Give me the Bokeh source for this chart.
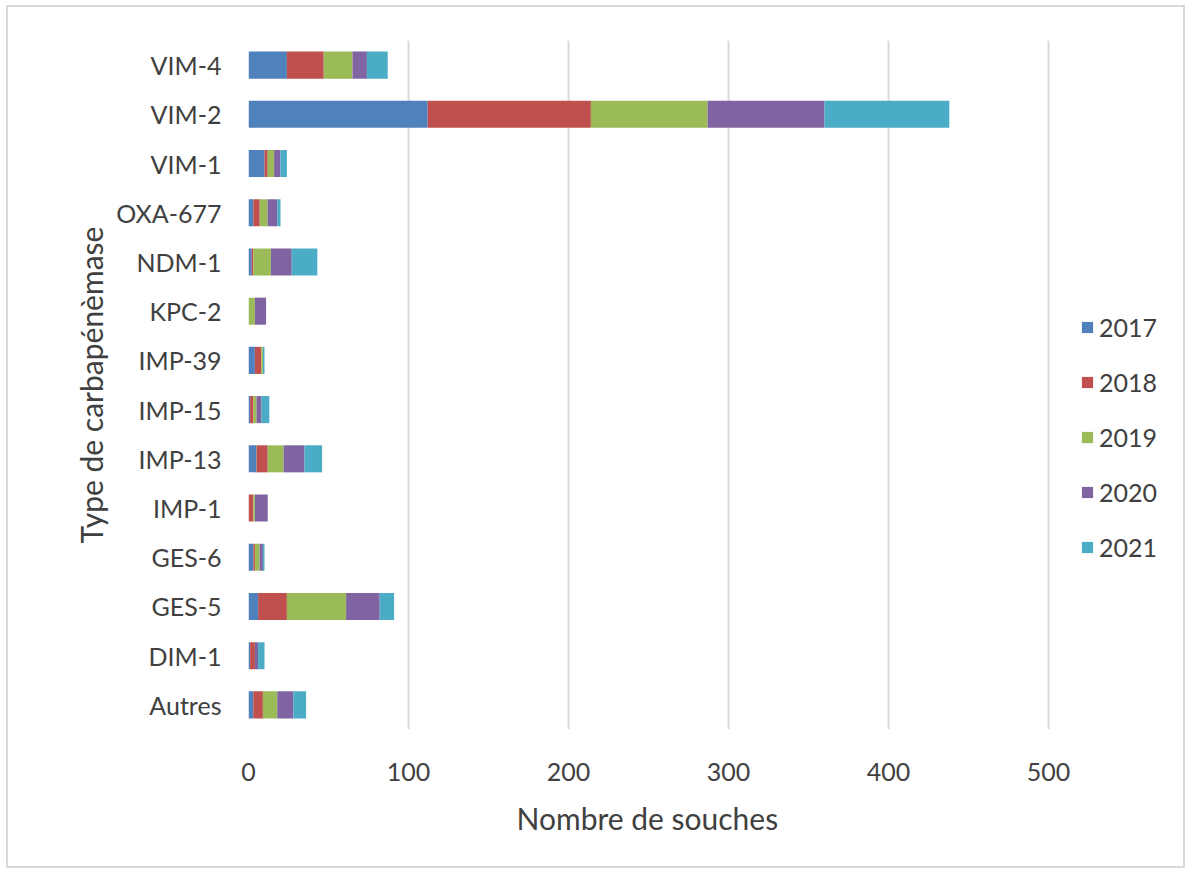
from bokeh.plotting import figure
from bokeh.models import ColumnDataSource, FactorRange, Range1d, Legend, LegendItem, FixedTicker, Title
from bokeh.embed import file_html
from bokeh.resources import INLINE

categories = ["Autres", "DIM-1", "GES-5", "GES-6", "IMP-1", "IMP-13", "IMP-15",
              "IMP-39", "KPC-2", "NDM-1", "OXA-677", "VIM-1", "VIM-2", "VIM-4"]
y2017 = [3, 1, 6, 3, 0, 5, 1, 4, 0, 2, 3, 10, 112, 24]
y2018 = [6, 3, 18, 1, 3, 7, 2, 4, 0, 1, 4, 2, 102, 23]
y2019 = [9, 0, 37, 3, 1, 10, 2, 1, 4, 11, 5, 4, 73, 18]
y2020 = [10, 2, 21, 2, 8, 13, 3, 0, 7, 13, 6, 4, 73, 9]
y2021 = [8, 4, 9, 1, 0, 11, 5, 1, 0, 16, 2, 4, 78, 13]
years = ["2017", "2018", "2019", "2020", "2021"]
colors = ["#4F81BD", "#C0504D", "#9BBB59", "#8064A2", "#4BACC6"]
x_ticks = [0, 100, 200, 300, 400, 500]

src = ColumnDataSource(dict(cat=categories, **{"2017": y2017, "2018": y2018,
                                               "2019": y2019, "2020": y2020, "2021": y2021}))

FONT = "Lato"
TXT = "#404040"

# frame spans 930 px; 500 units take 800 px, the rest holds the legend
p = figure(width=1179, height=863, output_backend="svg", toolbar_location=None,
           y_range=FactorRange(*categories, range_padding=0), x_range=Range1d(0, 581.25),
           min_border_left=240, min_border_right=9, min_border_top=33, min_border_bottom=141)
p.styles = {"border": "2px solid #d9d9d9", "box-sizing": "border-box",
            "margin-left": "6px", "margin-top": "5px"}

renderers = p.hbar_stack(years, y="cat", height=0.55, color=colors, source=src, line_color=None)

p.outline_line_color = None
p.ygrid.grid_line_color = None
p.xgrid.grid_line_color = "#d9d9d9"
p.xgrid.grid_line_width = 2
p.xaxis.ticker = FixedTicker(ticks=x_ticks)

for ax in (p.xaxis[0], p.yaxis[0]):
    ax.axis_line_color = None
    ax.major_tick_line_color = None
    ax.minor_tick_line_color = None
    ax.major_tick_out = 0
    ax.major_tick_in = 0
    ax.major_label_text_font = FONT
    ax.major_label_text_font_size = "25px"
    ax.major_label_text_color = TXT
    ax.axis_label_text_font = FONT
    ax.axis_label_text_font_size = "30px"
    ax.axis_label_text_font_style = "normal"
    ax.axis_label_text_color = TXT

p.yaxis.axis_label = "Type de carbapénèmase"
p.xaxis.major_label_standoff = 33
p.yaxis.major_label_standoff = 27
p.yaxis.axis_label_standoff = 4

xt = Title(text="Nombre de souches", align="left", offset=268,
           text_font=FONT, text_font_size="30px", text_font_style="normal",
           text_color=TXT, standoff=29)
p.add_layout(xt, "below")

legend = Legend(items=[LegendItem(label=y, renderers=[r]) for y, r in zip(years, renderers)],
                location=(832, 167), orientation="vertical")
legend.glyph_width = 14
legend.glyph_height = 14
legend.label_height = 30
legend.spacing = 25
legend.padding = 0
legend.margin = 0
legend.label_standoff = 5
legend.label_text_font = FONT
legend.label_text_font_size = "25px"
legend.label_text_color = TXT
legend.border_line_color = None
legend.background_fill_alpha = 0
p.add_layout(legend, "center")

open("out.html", "w").write(file_html(p, INLINE))
